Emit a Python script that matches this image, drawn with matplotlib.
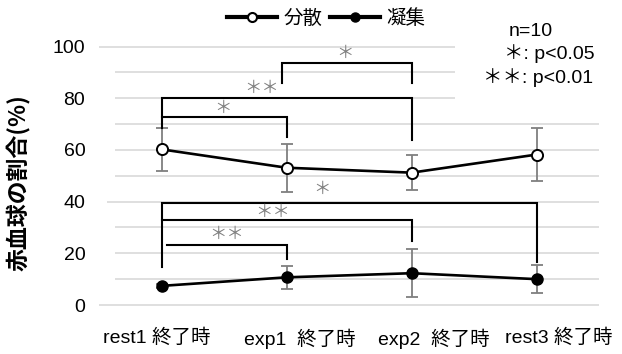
import matplotlib
matplotlib.use("Agg")
import matplotlib.pyplot as plt
from matplotlib.lines import Line2D
from matplotlib.transforms import ScaledTranslation

# ---- data -------------------------------------------------------------
categories = ["rest1", "exp1", "exp2", "rest3"]
tick_labels = ["rest1 終了時", "exp1  終了時", "exp2  終了時", "rest3 終了時"]
series_names = ["分散", "凝集"]
dispersed = [60.2, 53.1, 51.2, 58.2]
dispersed_err = [8.2, 9.2, 6.8, 10.2]
aggregated = [7.4, 10.7, 12.3, 10.0]
aggregated_err = [0.8, 4.4, 9.2, 5.5]
y_ticks = [0, 20, 40, 60, 80, 100]

# significance brackets: (left, right, bar height, left drop, right drop, mark, mark x, mark y)
brackets = [
    (0.00, 2, 80.0, 68.5, 63.8, "＊＊", 0.80, 83.9),
    (0.00, 1, 72.8, 72.8, 65.1, "＊", 0.49, 76.1),
    (0.965, 2, 93.5, 85.8, 85.8, "＊", 1.47, 97.6),
    (0.00, 3, 39.3, 14.6, 16.8, "＊", 1.28, 44.9),
    (0.00, 2, 32.8, 32.8, 24.8, "＊＊", 0.89, 35.9),
    (0.04, 1, 23.4, 23.4, 17.8, "＊＊", 0.52, 27.3),
]

LATIN = "Liberation Sans"
CJK = "Noto Sans CJK JP"
plt.rcParams["font.family"] = [LATIN, CJK, "DejaVu Sans"]

W, H = 622, 354
fig = plt.figure(figsize=(W / 100, H / 100), dpi=100)
ax = fig.add_axes([99.2 / W, 49 / H, 500 / W, 258.5 / H])
ax.set_xlim(-0.5, 3.5)
ax.set_ylim(0, 100)
for s in ax.spines.values():
    s.set_visible(False)

x = list(range(len(categories)))

# horizontal gridlines
for v in range(0, 101, 10):
    if v in (0, 100):
        x0 = -0.5
    elif v == 40:
        x0 = -0.44
    else:
        x0 = -0.374
    x1 = 2.35 if v >= 80 else 3.5
    ax.hlines(v, x0, x1, color="#d9d9d9", lw=1.2, zorder=0, clip_on=False)

# error bars
ax.errorbar(x, dispersed, yerr=dispersed_err, fmt="none", ecolor="#7f7f7f",
            elinewidth=1.3, capsize=4, capthick=1.3, zorder=2)
ax.errorbar(x, aggregated, yerr=aggregated_err, fmt="none", ecolor="#7f7f7f",
            elinewidth=1.3, capsize=4, capthick=1.3, zorder=2)

# series
ax.plot(x, dispersed, "-o", color="black", lw=1.9, ms=8, mfc="white",
        mec="black", mew=1.4, zorder=4)
ax.plot(x, aggregated, "-o", color="black", lw=1.9, ms=8, mfc="black",
        mec="black", zorder=4)

# significance brackets
for xl, xr, h, dl, dr, mark, mx, my in brackets:
    ax.plot([xl, xl, xr, xr], [dl, h, h, dr], color="black", lw=1.5,
            clip_on=False, zorder=3, solid_joinstyle="miter")
    ax.text(mx, my, mark, color="#808080", fontsize=12.5, ha="center",
            va="center", family=[CJK], zorder=3)

# axes ticks
ax.set_yticks(y_ticks)
ax.set_yticklabels([str(t) for t in y_ticks], fontsize=14, family=[LATIN])
ax.set_xticks(x)
ax.set_xticklabels(tick_labels, fontsize=14, family=[LATIN, CJK])
ax.tick_params(axis="both", length=0)
ax.tick_params(axis="y", pad=10)
ax.tick_params(axis="x", pad=17)

# nudge the category labels sideways (pixels)
for lbl, dx in zip(ax.get_xticklabels(), [-5, 13, 22, 22]):
    lbl.set_transform(lbl.get_transform()
                      + ScaledTranslation(dx / 100, 0, fig.dpi_scale_trans))

fig.text(19 / W, 1 - 183 / H, "赤血球の割合(%)", rotation=90, fontsize=16.5,
         fontweight="bold", family=[CJK], ha="center", va="center")

# legend
handles = [
    Line2D([], [], color="black", lw=3, marker="o", ms=6.5, mfc="white",
           mec="black", mew=1.5),
    Line2D([], [], color="black", lw=3, marker="o", ms=6.5, mfc="black",
           mec="black"),
]
fig.legend(handles, series_names, loc="center",
           bbox_to_anchor=(326 / W, 1 - 18 / H), ncol=2, frameon=False,
           handlelength=2.6, handletextpad=0.3, columnspacing=0.4,
           prop={"family": [CJK], "size": 14})

# sample size and significance key
fig.text(531 / W, 1 - 31 / H, "n=10", fontsize=14, ha="center", va="center",
         family=[LATIN])
fig.text(595 / W, 1 - 54 / H, "＊: p<0.05", fontsize=14, ha="right",
         va="center", family=[LATIN, CJK])
fig.text(593 / W, 1 - 78 / H, "＊＊: p<0.01", fontsize=14, ha="right",
         va="center", family=[LATIN, CJK])

fig.savefig("out.png", dpi=100)
